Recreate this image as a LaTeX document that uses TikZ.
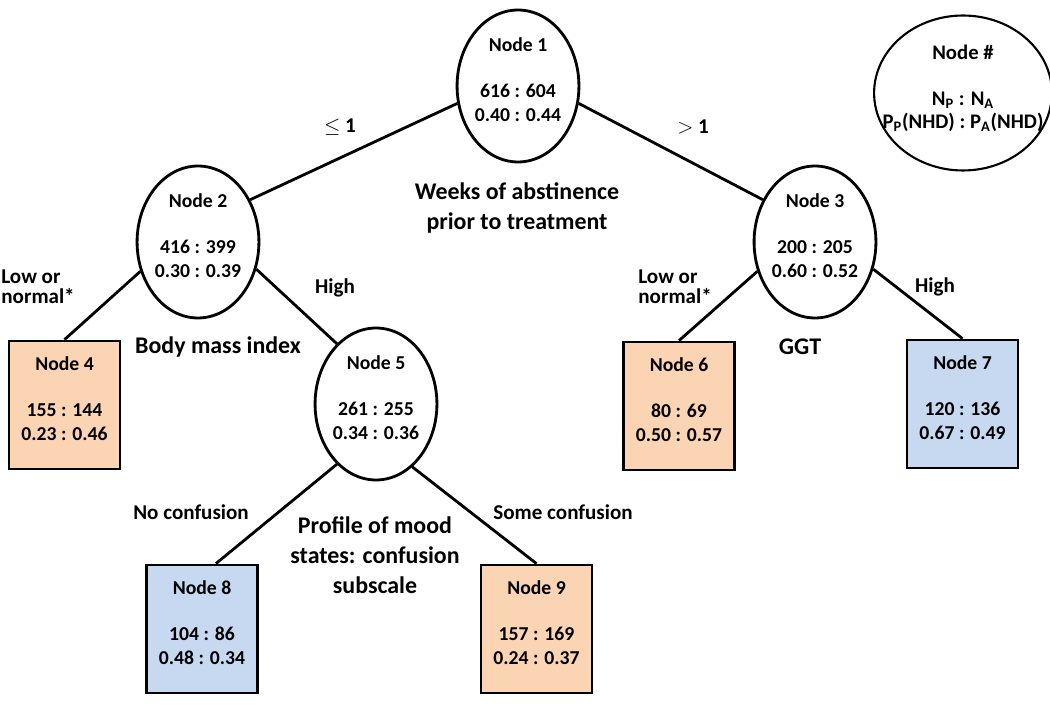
\documentclass[tikz,border=0pt]{standalone}
\usepackage{fontspec}
\setmainfont{Carlito}
\usetikzlibrary{shapes.geometric}
\definecolor{leaforange}{HTML}{FBD4B4}
\definecolor{leafblue}{HTML}{C6D9F1}
\newcommand{\nodestats}[3]{#1\\[13pt]#2\\#3\\[-6pt]\mbox{}}
\tikzset{x=0.02cm, y=-0.02cm,
  split/.style={ellipse, draw, line width=1.6pt, minimum width=2.4cm, minimum height=3.04cm,
    inner sep=0pt, align=center, font=\bfseries\fontsize{11.2}{13.3}\selectfont},
  leaf/.style={rectangle, draw, line width=1.6pt, minimum width=2.22cm, minimum height=2.56cm,
    inner sep=0pt, align=center, font=\bfseries\fontsize{11.2}{13.3}\selectfont},
  branch/.style={align=center, inner sep=0pt, font=\bfseries\fontsize{12}{11.5}\selectfont},
  var/.style={align=center, inner sep=0pt, font=\bfseries\fontsize{13.6}{17}\selectfont},
  edge/.style={line width=1.6pt}}

\begin{document}
\begin{tikzpicture}
  \useasboundingbox (0,0) rectangle (1050,705);
  % splits
  \node[split] (n1) at (518,86)  {\nodestats{Node 1}{616 : 604}{0.40 : 0.44}};
  \node[split] (n2) at (198,242) {\nodestats{Node 2}{416 : 399}{0.30 : 0.39}};
  \node[split] (n3) at (815,242) {\nodestats{Node 3}{200 : 205}{0.60 : 0.52}};
  \node[split] (n5) at (376,404) {\nodestats{Node 5}{261 : 255}{0.34 : 0.36}};
  % leaves
  \node[leaf, fill=leaforange] (n4) at (64.5,405) {\nodestats{Node 4}{155 : 144}{0.23 : 0.46}};
  \node[leaf, fill=leaforange] (n6) at (679,406)  {\nodestats{Node 6}{80 : 69}{0.50 : 0.57}};
  \node[leaf, fill=leafblue]   (n7) at (962.5,404){\nodestats{Node 7}{120 : 136}{0.67 : 0.49}};
  \node[leaf, fill=leafblue]   (n8) at (202,629)  {\nodestats{Node 8}{104 : 86}{0.48 : 0.34}};
  \node[leaf, fill=leaforange] (n9) at (536.5,629){\nodestats{Node 9}{157 : 169}{0.24 : 0.37}};
  % key
  \node[split, line width=1.2pt, minimum width=3.4cm, minimum height=3.1cm, inner xsep=-10pt,
    font=\bfseries\fontsize{11.8}{13.3}\selectfont] (key) at (963,93)
    {\nodestats{Node \#}{N\textsubscript{P} : N\textsubscript{A}}{P\textsubscript{P}(NHD) : P\textsubscript{A}(NHD)}};
  % connectors
  \draw[edge] (n1.196) -- (n2.39);
  \draw[edge] (n1.344) -- (n3.141);
  \draw[edge] (n2.207) -- (n4.north);
  \draw[edge] (n2.335) -- (n5.123);
  \draw[edge] (n3.207) -- (n6.north);
  \draw[edge] (n3.335) -- (n7.north);
  \draw[edge] (n5.237) -- (n8.78);
  \draw[edge] (n5.300) -- (n9.north);
  % branch labels
  \node[branch] (le1) at (340,127) {$\leq$ 1};
  \node[branch] (gt1) at (693,127) {$>$ 1};
  \node[branch, align=left, anchor=west] (low2) at (1,287) {Low or\\normal*};
  \node[branch] (high2) at (335,288) {High};
  \node[branch, align=left, anchor=west] (low3) at (638,287) {Low or\\normal*};
  \node[branch] (high3) at (935,287) {High};
  \node[branch] (noconf) at (191,512) {No confusion};
  \node[branch] (someconf) at (563,512) {Some confusion};
  % split variables
  \node[var] (weeks) at (517,208) {Weeks of abstinence\\prior to treatment};
  \node[var] (bmi) at (218,347) {Body mass index};
  \node[var] (ggt) at (800,347) {GGT};
  \node[var] (poms) at (375,555) {Profile of mood\\states: confusion\\subscale};
\end{tikzpicture}
\end{document}
